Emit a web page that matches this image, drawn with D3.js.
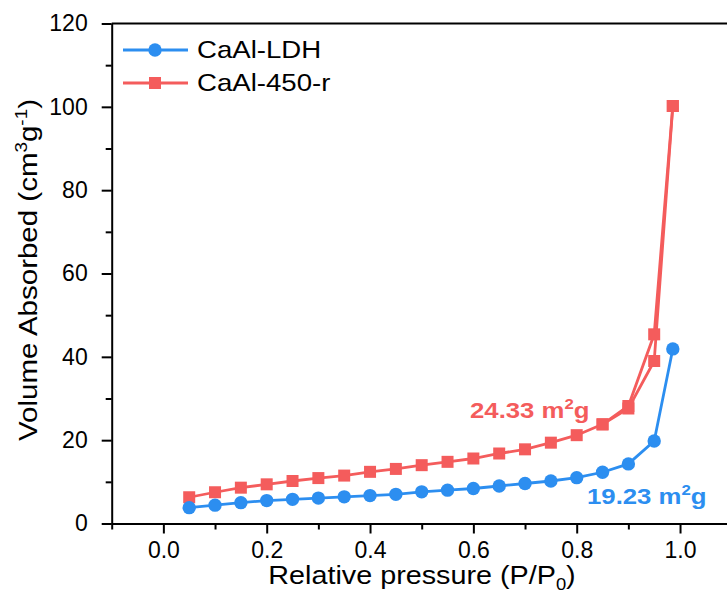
<!DOCTYPE html>
<html>
<head>
<meta charset="utf-8">
<script src="https://cdn.jsdelivr.net/npm/d3@7"></script>
<style>
  body { margin: 0; background: #fff; }
  svg { display: block; font-family: "Liberation Sans", Arial, sans-serif; }
</style>
</head>
<body>
<script>
// N2 isotherms, P/P0 vs volume (cm3/g)
var ldhP   = [0.05, 0.10, 0.15, 0.20, 0.25, 0.30, 0.35, 0.40, 0.45, 0.50, 0.55, 0.60, 0.65, 0.70, 0.75, 0.80, 0.85, 0.90, 0.95, 0.986];
var ldhV   = [3.8, 4.4, 5.0, 5.5, 5.8, 6.1, 6.4, 6.7, 7.0, 7.6, 8.0, 8.4, 9.0, 9.6, 10.2, 11.0, 12.3, 14.3, 19.8, 41.9];

var r450P  = [0.05, 0.10, 0.15, 0.20, 0.25, 0.30, 0.35, 0.40, 0.45, 0.50, 0.55, 0.60, 0.65, 0.70, 0.75, 0.80, 0.85, 0.90, 0.95, 0.986];
var r450V  = [6.3, 7.5, 8.6, 9.4, 10.2, 10.9, 11.5, 12.4, 13.1, 14.0, 14.8, 15.6, 16.8, 17.8, 19.4, 21.2, 23.8, 27.6, 39.0, 100.2];
// desorption branch of CaAl-450-r (upper end only, rest overlaps)
var r450DesP = [0.986, 0.95, 0.90, 0.85];
var r450DesV = [100.2, 45.4, 28.2, 23.8];

var xMajor = [0.0, 0.2, 0.4, 0.6, 0.8, 1.0];
var xMinor = [-0.1, 0.1, 0.3, 0.5, 0.7, 0.9, 1.1];
var yMajor = [0, 20, 40, 60, 80, 100, 120];
var yMinor = [10, 30, 50, 70, 90, 110];

var blue = '#2c8ef0';
var red = '#f45c5c';

var width = 727, height = 603;
var svg = d3.select('body').append('svg')
	.attr('width', width)
	.attr('height', height);

var x = d3.scaleLinear().domain([-0.1, 1.1]).range([111.7, 731.7]);
var y = d3.scaleLinear().domain([0, 120]).range([523.5, 23.5]);

// text in the original is a bit wider than Arial, so stretch it sideways
function placeText(sel, px, py, sx, rot){
	var tr = 'translate(' + px + ',' + py + ')';
	if(rot) tr += ' rotate(' + rot + ')';
	tr += ' scale(' + sx + ',1)';
	return sel.attr('transform', tr);
}

// axes
var axisLayer = svg.append('g').attr('id', 'axis-layer');

function styleAxis(g){
	g.select('.domain').attr('stroke', '#000').attr('stroke-width', 2);
	g.selectAll('.tick line').attr('stroke', '#000').attr('stroke-width', 2);
	g.selectAll('.tick text').attr('fill', '#000').attr('font-size', 23)
		.attr('font-family', '"Liberation Sans", Arial, sans-serif');
}

var xAxis = axisLayer.append('g')
	.attr('transform', 'translate(0,' + y(0) + ')')
	.call(d3.axisBottom(x).tickValues(xMajor).tickSize(10).tickPadding(8).tickSizeOuter(0)
		.tickFormat(d3.format('.1f')));
styleAxis(xAxis);

axisLayer.append('g')
	.attr('transform', 'translate(0,' + y(0) + ')')
	.call(d3.axisBottom(x).tickValues(xMinor).tickSize(6).tickFormat('').tickSizeOuter(0))
	.call(styleAxis)
	.select('.domain').remove();

var yAxis = axisLayer.append('g')
	.attr('transform', 'translate(' + x(-0.1) + ',0)')
	.call(d3.axisLeft(y).tickValues(yMajor).tickSize(10).tickPadding(14).tickSizeOuter(0));
styleAxis(yAxis);

axisLayer.append('g')
	.attr('transform', 'translate(' + x(-0.1) + ',0)')
	.call(d3.axisLeft(y).tickValues(yMinor).tickSize(6).tickFormat('').tickSizeOuter(0))
	.call(styleAxis)
	.select('.domain').remove();

// top border of the frame (right side is cropped off)
axisLayer.append('line')
	.attr('x1', x(-0.1)).attr('x2', x(1.1))
	.attr('y1', y(120)).attr('y2', y(120))
	.attr('stroke', '#000').attr('stroke-width', 2);

// axis titles
axisLayer.append('text')
	.attr('text-anchor', 'middle')
	.attr('font-size', 25)
	.call(placeText, 422, 584, 1.15)
	.call(function(t){
		t.append('tspan').text('Relative pressure (P/P');
		t.append('tspan').attr('font-size', 16).attr('dy', 6).text('0');
		t.append('tspan').attr('dy', -6).text(')');
	});

axisLayer.append('text')
	.attr('text-anchor', 'middle')
	.attr('font-size', 25)
	.call(placeText, 37, 270, 1.18, -90)
	.call(function(t){
		t.append('tspan').text('Volume Absorbed (cm');
		t.append('tspan').attr('font-size', 16).attr('dy', -10).text('3');
		t.append('tspan').attr('dy', 10).text('g');
		t.append('tspan').attr('font-size', 16).attr('dy', -10).text('-1');
		t.append('tspan').attr('dy', 10).text(')');
	});

// data
var mainLayer = svg.append('g').attr('id', 'main-layer');
var line = d3.line().x(function(d){ return x(d[0]); }).y(function(d){ return y(d[1]); });

function series(P, V, color, shape){
	var pts = P.map(function(p, i){ return [p, V[i]]; });
	mainLayer.append('path')
		.datum(pts)
		.attr('d', line)
		.attr('fill', 'none')
		.attr('stroke', color)
		.attr('stroke-width', 2.8);
	drawMarkers(mainLayer, pts, color, shape);
}

function drawMarkers(layer, pts, color, shape){
	if(shape === 'square'){
		layer.selectAll(null).data(pts).enter().append('rect')
			.attr('x', function(d){ return x(d[0]) - 6; })
			.attr('y', function(d){ return y(d[1]) - 6; })
			.attr('width', 12).attr('height', 12)
			.attr('fill', color);
	} else {
		layer.selectAll(null).data(pts).enter().append('circle')
			.attr('cx', function(d){ return x(d[0]); })
			.attr('cy', function(d){ return y(d[1]); })
			.attr('r', 6.7)
			.attr('fill', color);
	}
}

series(r450P, r450V, red, 'square');
series(r450DesP, r450DesV, red, 'square');
series(ldhP, ldhV, blue, 'circle');

// surface area notes
function note(xp, yp, label, color){
	mainLayer.append('text')
		.attr('fill', color)
		.attr('font-size', 23)
		.attr('font-weight', 'bold')
		.call(placeText, xp, yp, 1.12)
		.call(function(t){
			t.append('tspan').text(label + ' m');
			t.append('tspan').attr('font-size', 15).attr('dy', -9).text('2');
			t.append('tspan').attr('dy', 9).text('g');
		});
}
note(470, 418, '24.33', red);
note(587, 504, '19.23', blue);

// legend
var legend = svg.append('g').attr('id', 'legend');
var legendItems = [
	{ name: 'CaAl-LDH', color: blue, shape: 'circle', cy: 50 },
	{ name: 'CaAl-450-r', color: red, shape: 'square', cy: 83 }
];
legendItems.forEach(function(it){
	legend.append('line')
		.attr('x1', 123).attr('x2', 188)
		.attr('y1', it.cy).attr('y2', it.cy)
		.attr('stroke', it.color).attr('stroke-width', 2.8);
	if(it.shape === 'square'){
		legend.append('rect').attr('x', 155 - 6).attr('y', it.cy - 6)
			.attr('width', 12).attr('height', 12).attr('fill', it.color);
	} else {
		legend.append('circle').attr('cx', 155).attr('cy', it.cy).attr('r', 6.7).attr('fill', it.color);
	}
	legend.append('text')
		.attr('font-size', 24)
		.call(placeText, 197, it.cy + 8, 1.15)
		.text(it.name);
});
</script>
</body>
</html>
